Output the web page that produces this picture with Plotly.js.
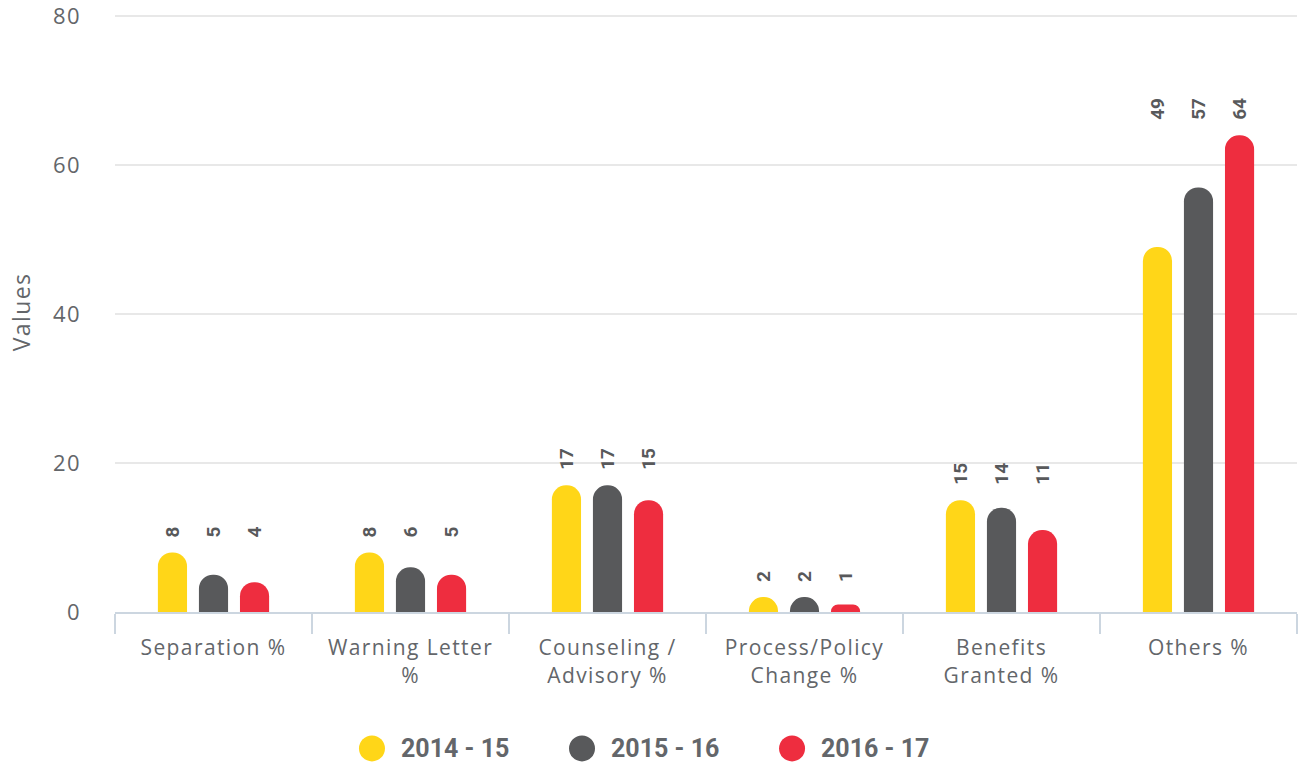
<!DOCTYPE html>
<html>
<head>
<meta charset="utf-8">
<script src="https://cdn.plot.ly/plotly-3.0.1.min.js"></script>
<style>
html,body{margin:0;padding:0;background:#fff;}
#chart{width:1303px;height:762px;}
#chart .xtick text, #chart .ytick text, #chart .ytitle { letter-spacing: 1.4px; }
</style>
</head>
<body>
<div id="chart"></div>
<script>
const categories = ["Separation %", "Warning Letter<br>%", "Counseling /<br>Advisory %", "Process/Policy<br>Change %", "Benefits<br>Granted %", "Others %"];
const seriesNames = ["2014 - 15", "2015 - 16", "2016 - 17"];
const values2014 = [8, 8, 17, 2, 15, 49];
const values2015 = [5, 6, 17, 2, 14, 57];
const values2016 = [4, 5, 15, 1, 11, 64];
const colors = ["#FFD618", "#58595B", "#EE2D3F"];
const yTicks = [0, 20, 40, 60, 80];

const allSeries = [values2014, values2015, values2016];
const textColor = "#63666A";

const traces = allSeries.map((vals, i) => ({
  type: "bar",
  name: seriesNames[i],
  x: categories,
  y: vals,
  marker: { color: colors[i], cornerradius: 15 },
  showlegend: false,
  hoverinfo: "x+y+name"
}));

// value labels, aligned at the top of each group's tallest bar
const groupMax = categories.map((c, k) => Math.max(...allSeries.map(s => s[k])));
const annotations = [];
allSeries.forEach((vals, i) => {
  vals.forEach((v, k) => {
    annotations.push({
      x: categories[k],
      y: groupMax[k],
      xref: "x",
      yref: "y",
      text: String(v),
      showarrow: false,
      textangle: -90,
      yanchor: "bottom",
      xanchor: "center",
      xshift: (i - 1) * 41,
      yshift: 13,
      font: { family: "Roboto, sans-serif", size: 19, color: "#58595B", weight: "bold" }
    });
  });
});

// custom legend (large circle symbols)
const legendX = [0.2174, 0.3951, 0.5728];
const legendY = -0.2273;
const shapes = [];
seriesNames.forEach((n, i) => {
  shapes.push({
    type: "circle",
    xref: "paper", yref: "paper",
    xsizemode: "pixel", ysizemode: "pixel",
    xanchor: legendX[i], yanchor: legendY,
    x0: -13, x1: 13, y0: -13, y1: 13,
    fillcolor: colors[i],
    line: { width: 0 }
  });
  annotations.push({
    xref: "paper", yref: "paper",
    x: legendX[i], y: legendY,
    xshift: 27,
    xanchor: "left", yanchor: "middle",
    text: n,
    showarrow: false,
    font: { family: "Roboto, sans-serif", size: 25, color: textColor, weight: "bold" }
  });
});

const layout = {
  width: 1303,
  height: 762,
  margin: { l: 115, r: 6, t: 12, b: 150, autoexpand: false },
  paper_bgcolor: "#fff",
  plot_bgcolor: "#fff",
  barmode: "group",
  bargap: 0.375,
  bargroupgap: 0.29,
  showlegend: false,
  font: { family: "'Open Sans', sans-serif", color: textColor },
  xaxis: {
    type: "category",
    showline: true,
    linecolor: "#CCD6E0",
    linewidth: 2,
    ticks: "outside",
    tickson: "boundaries",
    ticklen: 20,
    tickwidth: 2,
    tickcolor: "#CCD6E0",
    showgrid: false,
    ticklabelstandoff: 16,
    tickfont: { size: 21, color: textColor },
    fixedrange: true
  },
  yaxis: {
    range: [0, 80.55],
    tickvals: yTicks,
    ticktext: yTicks.map(String),
    ticklabeloverflow: "allow",
    showgrid: true,
    gridcolor: "#E8E8E8",
    gridwidth: 2,
    zeroline: false,
    showline: false,
    ticks: "",
    ticklabelstandoff: 33,
    tickfont: { size: 22, color: textColor },
    title: { text: "Values", font: { size: 23, color: textColor }, standoff: 18 },
    fixedrange: true
  },
  annotations: annotations,
  shapes: shapes
};

Plotly.newPlot("chart", traces, layout, { displayModeBar: false, staticPlot: true });
</script>
</body>
</html>
